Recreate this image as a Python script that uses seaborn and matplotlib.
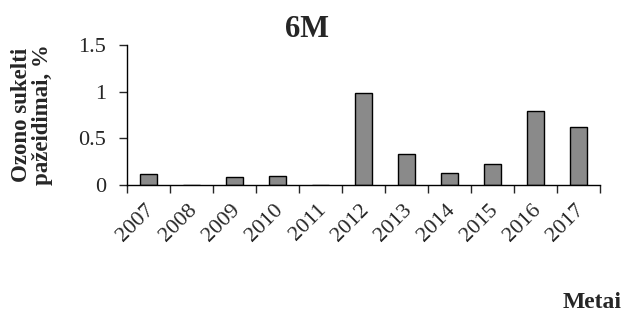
import numpy as np
import pandas as pd
import matplotlib
matplotlib.use("Agg")
import matplotlib.pyplot as plt
import matplotlib.transforms as mtransforms
import seaborn as sns

years = ["2007", "2008", "2009", "2010", "2011", "2012", "2013", "2014", "2015", "2016", "2017"]
damage = [0.12, 0.0, 0.09, 0.10, 0.0, 0.99, 0.33, 0.13, 0.23, 0.79, 0.62]
ytick_vals = [0, 0.5, 1, 1.5]
ytick_labels = ["0", "0.5", "1", "1.5"]

sns.set_style("white")
plt.rcParams["font.family"] = ["Liberation Serif", "DejaVu Serif"]

df = pd.DataFrame({"year": years, "damage": damage})

fig = plt.figure(figsize=(6.25, 3.13), dpi=100)
ax = fig.add_axes([0.2032, 0.409, 0.7568, 0.447])

sns.barplot(data=df, x="year", y="damage", color="#8a8a8a", saturation=1,
            edgecolor="black", linewidth=1, width=0.40, ax=ax)

ax.set_ylim(0, 1.5)
ax.set_xlim(-0.5, len(years) - 0.5)
ax.set_yticks(ytick_vals)
ax.set_yticklabels(ytick_labels, fontsize=16)
ax.tick_params(axis="y", length=6, width=1, direction="out", pad=9, left=True)

# category boundary ticks on x, labels at centres
ax.set_xticks(np.arange(len(years) + 1) - 0.5, minor=True)
ax.tick_params(axis="x", which="minor", length=6, width=1, direction="out", bottom=True)
ax.tick_params(axis="x", which="major", length=0, pad=16)
ax.set_xticklabels(years, fontsize=16, rotation=45, ha="right", va="center",
                   rotation_mode="anchor")
offset = mtransforms.ScaledTranslation(0.03, 0, fig.dpi_scale_trans)
for lbl in ax.get_xticklabels():
    lbl.set_transform(lbl.get_transform() + offset)

for side in ["top", "right"]:
    ax.spines[side].set_visible(False)
for side in ["left", "bottom"]:
    ax.spines[side].set_color("black")
    ax.spines[side].set_linewidth(1)

ax.set_xlabel("")
ax.set_ylabel("Ozono sukelti\npažeidimai, %", fontsize=16.5, fontweight="bold",
              linespacing=1.0, labelpad=18)
ax.set_title("6M", fontsize=22, fontweight="bold", x=0.38, pad=6)
fig.text(0.995, 0.0, "Metai", fontsize=17, fontweight="bold", ha="right", va="bottom")

fig.savefig("out.png", dpi=100)
